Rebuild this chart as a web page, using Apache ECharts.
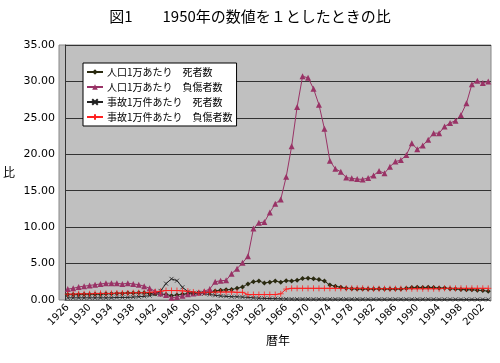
<!DOCTYPE html>
<html><head><meta charset="utf-8">
<script src="https://cdn.jsdelivr.net/npm/echarts@6/dist/echarts.min.js"></script>
<style>html,body{margin:0;padding:0;background:#fff}#c{width:500px;height:363px}</style>
</head><body><div id="c"></div>
<script>
const years = [];
for (let y = 1926; y <= 2003; y++) years.push(String(y));

const seriesNames = ['人口1万あたり　死者数','人口1万あたり　負傷者数','事故1万件あたり　死者数','事故1万件あたり　負傷者数'];

const popDeaths = [
 0.75,0.75,0.75,0.8,0.8,0.8,0.8,0.85,0.85,0.9,0.9,0.95,0.95,1.0,1.0,0.9,0.85,0.8,0.75,0.6,0.7,0.8,0.85,0.9,1.0,
 1.05,1.1,1.25,1.35,1.4,1.45,1.6,1.8,2.2,2.5,
 2.6,2.35,2.45,2.6,2.45,2.65,2.6,2.7,2.95,3.0,
 2.9,2.8,2.6,2.05,1.9,1.75,1.6,1.55,1.5,1.5,
 1.5,1.5,1.55,1.5,1.5,1.5,1.5,1.6,1.7,1.75,
 1.7,1.75,1.7,1.65,1.65,1.55,1.5,1.45,1.4,1.4,
 1.35,1.3,1.2];

const popInjured = [
 1.5,1.6,1.8,1.9,2.0,2.1,2.2,2.3,2.3,2.3,2.2,2.3,2.2,2.1,1.9,1.6,1.2,0.9,0.7,0.3,0.4,0.6,0.8,0.9,1.0,
 1.2,1.5,2.5,2.65,2.7,3.6,4.3,5.1,6.0,9.8,
 10.6,10.7,12.0,13.2,13.8,16.9,21.1,26.5,30.7,30.5,
 29.0,26.8,23.5,19.1,18.0,17.6,16.8,16.7,16.6,16.55,
 16.75,17.1,17.7,17.4,18.3,19.0,19.2,19.9,21.5,20.7,
 21.2,22.0,22.9,22.9,23.8,24.3,24.6,25.4,27.0,29.6,
 30.1,29.8,30.0];

const accDeaths = [
 0.3,0.3,0.3,0.3,0.3,0.3,0.3,0.3,0.3,0.35,0.35,0.35,0.4,0.45,0.5,0.6,0.8,1.25,2.25,2.9,2.65,1.75,1.15,0.95,1.0,
 0.85,0.75,0.65,0.55,0.5,0.45,0.45,0.4,0.35,0.3,
 0.25,0.22,0.2,0.18,0.16,0.14,0.13,0.12,0.12,0.12,
 0.11,0.11,0.11,0.11,0.11,0.11,0.11,0.11,0.11,0.11,
 0.1,0.1,0.1,0.1,0.1,0.1,0.1,0.1,0.1,0.1,
 0.1,0.1,0.1,0.09,0.09,0.09,0.09,0.08,0.08,0.08,
 0.08,0.08,0.07];

const accInjured = [
 0.8,0.8,0.85,0.85,0.85,0.9,0.9,0.9,0.9,0.95,0.95,0.95,1.0,1.0,1.0,1.05,1.1,1.2,1.3,1.3,1.3,1.25,1.2,1.1,1.0,
 1.05,1.05,1.1,1.1,1.1,1.1,1.05,1.05,0.75,0.75,
 0.75,0.75,0.75,0.75,0.85,1.5,1.6,1.6,1.6,1.6,
 1.6,1.6,1.6,1.6,1.6,1.6,1.6,1.6,1.6,1.6,
 1.55,1.55,1.55,1.55,1.55,1.55,1.55,1.55,1.55,1.55,
 1.55,1.55,1.55,1.55,1.6,1.6,1.6,1.6,1.6,1.6,
 1.6,1.6,1.6];

const yTicks = {min: 0, max: 35, interval: 5};

const FONT = "'DejaVu Sans','Noto Sans CJK JP',sans-serif";
const JP = "'Noto Sans CJK JP',sans-serif";
const chart = echarts.init(document.getElementById('c'));
const xSym = 'path://M0,0L10,10M10,0L0,10';
const plusSym = 'path://M5,0L5,10M0,5L10,5';
function mk(name, data, color, symbol, size, strokeSym) {
  return {
    name, type: 'line', data, symbol, symbolSize: size, showSymbol: true, showAllSymbol: true,
    lineStyle: {color, width: 1},
    itemStyle: strokeSym ? {color: color, borderColor: color, borderWidth: 0.8} : {color, borderWidth: 0},
    emphasis: {disabled: true}, animation: false
  };
}
chart.setOption({
  backgroundColor: '#fff',
  animation: false,
  title: {text: '図1　　1950年の数値を１としたときの比', left: 'center', top: 4,
    textStyle: {fontFamily: JP, fontSize: 15, fontWeight: 'normal', color: '#000'}},
  grid: {left: 59, right: 9, top: 45, bottom: 63},
  legend: {
    orient: 'vertical', left: 83, top: 63, backgroundColor: '#fff', borderColor: '#000', borderWidth: 1,
    padding: [4, 4, 4, 3], itemGap: 5, itemWidth: 16, itemHeight: 7,
    textStyle: {fontFamily: JP, fontSize: 10, color: '#000', padding: [0, 0, 0, -1]},
    data: seriesNames
  },
  xAxis: {
    type: 'category', data: years, boundaryGap: true,
    name: '暦年', nameLocation: 'middle', nameGap: 27,
    nameTextStyle: {fontFamily: JP, fontSize: 12, color: '#000'},
    axisLine: {lineStyle: {color: '#666'}},
    axisTick: {show: false},
    axisLabel: {interval: 3, rotate: 45, fontSize: 10, color: '#000', fontFamily: FONT, margin: 6}
  },
  yAxis: {
    type: 'value', min: yTicks.min, max: yTicks.max, interval: yTicks.interval,
    name: '比', nameLocation: 'middle', nameRotate: 0, nameGap: 50,
    nameTextStyle: {fontFamily: JP, fontSize: 12, color: '#000'},
    axisLine: {show: true, lineStyle: {color: '#333'}},
    axisTick: {show: false},
    splitLine: {lineStyle: {color: '#333', width: 1}},
    axisLabel: {formatter: v => v.toFixed(2), fontSize: 11, color: '#000', fontFamily: FONT, margin: 10}
  },
  graphic: [{type: 'rect', shape: {x: 59, y: 45, width: 432, height: 255}, style: {fill: '#c0c0c0', stroke: '#888', lineWidth: 1}, z: -1, silent: true}],
  series: [
    mk(seriesNames[0], popDeaths, '#2a2a10', 'diamond', 5, false),
    mk(seriesNames[1], popInjured, '#993366', 'triangle', 6, false),
    mk(seriesNames[2], accDeaths, '#222222', xSym, 4, true),
    mk(seriesNames[3], accInjured, '#ff2020', plusSym, 6, true)
  ]
});
</script></body></html>
